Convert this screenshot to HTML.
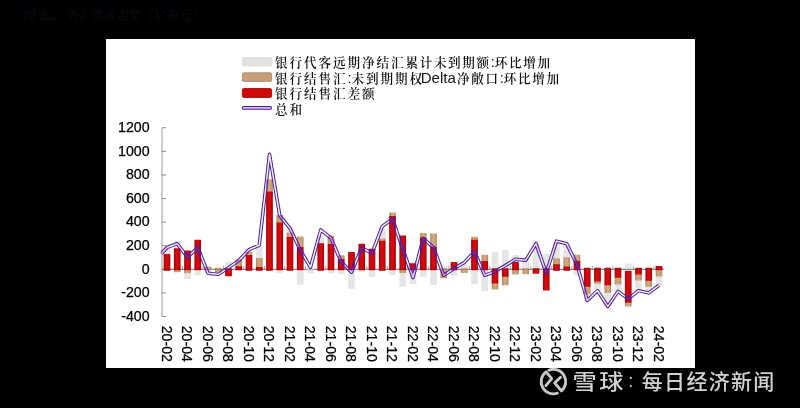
<!DOCTYPE html>
<html lang="zh-CN">
<head>
<meta charset="utf-8">
<title>图 21：外汇供求走势（亿美元）</title>
<style>
html,body{margin:0;padding:0;background:#000;}
body{width:800px;height:408px;position:relative;overflow:hidden;font-family:"Liberation Sans","Noto Sans CJK SC",sans-serif;}
#title{position:absolute;left:24px;top:7px;font-family:"Liberation Sans","Noto Serif CJK SC",serif;font-size:12.5px;line-height:18px;color:#0c0c16;white-space:nowrap;}
#panel{position:absolute;left:106px;top:39px;width:589px;height:329px;background:#fff;}
svg{position:absolute;left:0;top:0;}
.ax text{font-family:"Liberation Sans",sans-serif;font-size:14.2px;fill:#000;stroke:#000;stroke-width:0.25px;}
.lg text{font-family:"Liberation Sans","Noto Serif CJK SC",serif;font-size:12.6px;letter-spacing:1.9px;fill:#111;font-weight:600;}
.lg .en{font-size:14.5px;letter-spacing:0;font-weight:400;}
.wm text{font-family:"Liberation Sans","Noto Sans CJK SC",sans-serif;fill:#d2d2d2;font-weight:500;}
</style>
</head>
<body>
<div id="title">图 21：外汇供求走势（亿美元）</div>
<div id="panel"></div>
<svg width="800" height="408" viewBox="0 0 800 408">
<defs>
<linearGradient id="gr" x1="0" y1="0" x2="1" y2="0"><stop offset="0" stop-color="#ae0408"/><stop offset="0.35" stop-color="#d60a0e"/><stop offset="0.65" stop-color="#d60a0e"/><stop offset="1" stop-color="#ae0408"/></linearGradient>
<linearGradient id="gb" x1="0" y1="0" x2="1" y2="0"><stop offset="0" stop-color="#b89068"/><stop offset="0.35" stop-color="#cfa880"/><stop offset="0.65" stop-color="#cfa880"/><stop offset="1" stop-color="#b89068"/></linearGradient>
<mask id="lm" maskUnits="userSpaceOnUse" x="0" y="0" width="800" height="408"><rect x="0" y="0" width="800" height="408" fill="#fff"/><polyline points="161.6,253.49 167.00,247.48 177.25,243.70 187.50,257.27 197.75,247.48 208.00,273.19 218.25,274.37 228.50,267.65 238.75,260.57 249.00,249.72 259.25,245.24 269.50,154.30 279.75,215.63 290.00,228.37 300.25,249.96 310.50,267.29 320.75,229.90 331.00,238.16 341.25,261.99 351.50,272.25 361.75,247.72 372.00,253.26 382.25,226.37 392.50,218.82 402.75,249.01 413.00,277.56 423.25,238.40 433.50,247.48 443.75,275.32 454.00,268.59 464.25,262.58 474.50,251.61 484.75,275.32 495.00,271.54 505.25,265.53 515.50,259.16 525.75,260.22 536.00,243.70 546.25,273.07 556.50,241.11 566.75,243.70 577.00,264.82 587.25,300.44 597.50,290.65 607.75,306.45 618.00,291.36 628.25,298.91 638.50,290.65 648.75,292.89 659.00,285.34" fill="none" stroke="#000" stroke-width="1.5" stroke-linejoin="round"/></mask>
</defs>
<g class="lg">
<rect x="242" y="57" width="30" height="9.4" rx="1.5" fill="#e1e1e1"/>
<rect x="242.4" y="72.8" width="29.2" height="8.6" rx="1.5" fill="#c6a07a" stroke="#a88360" stroke-width="0.8"/>
<rect x="242.4" y="88.6" width="29.2" height="8.8" rx="1.5" fill="#cf0808" stroke="#a80505" stroke-width="0.9"/>
<line x1="243.6" y1="107.9" x2="270.2" y2="107.9" stroke="#47208f" stroke-width="3.7" stroke-linecap="round"/>
<line x1="243.6" y1="107.9" x2="270.2" y2="107.9" stroke="#d2bef2" stroke-width="1.7" stroke-linecap="round"/>
<text x="275" y="67">银行代客远期净结汇<tspan style="letter-spacing:1.62px">累计未到期额</tspan><tspan class="en">:</tspan><tspan style="letter-spacing:1.62px">环比增加</tspan></text>
<text x="275" y="82.5">银行结售汇<tspan class="en">:</tspan>未到期期权<tspan class="en" dx="-3.2" style="font-size:15px">Delta</tspan><tspan dx="1.2" style="letter-spacing:1.65px">净敞口</tspan><tspan class="en">:</tspan><tspan style="letter-spacing:1.65px">环比增加</tspan></text>
<text x="275" y="98">银行结售汇差额</text>
<text x="275" y="113.5">总和</text>
</g>
<g class="ax">
<line x1="162" y1="127.76" x2="162" y2="316.48" stroke="#9a9a9a" stroke-width="1"/>
<text x="149.6" y="132" text-anchor="end">1200</text>
<line x1="162" y1="127.76" x2="166" y2="127.76" stroke="#8a8a8a" stroke-width="1"/>
<text x="149.6" y="156" text-anchor="end">1000</text>
<line x1="162" y1="151.35" x2="166" y2="151.35" stroke="#8a8a8a" stroke-width="1"/>
<text x="149.6" y="179" text-anchor="end">800</text>
<line x1="162" y1="174.94" x2="166" y2="174.94" stroke="#8a8a8a" stroke-width="1"/>
<text x="149.6" y="203" text-anchor="end">600</text>
<line x1="162" y1="198.53" x2="166" y2="198.53" stroke="#8a8a8a" stroke-width="1"/>
<text x="149.6" y="226" text-anchor="end">400</text>
<line x1="162" y1="222.12" x2="166" y2="222.12" stroke="#8a8a8a" stroke-width="1"/>
<text x="149.6" y="250" text-anchor="end">200</text>
<line x1="162" y1="245.71" x2="166" y2="245.71" stroke="#8a8a8a" stroke-width="1"/>
<text x="149.6" y="274" text-anchor="end">0</text>
<line x1="162" y1="269.30" x2="166" y2="269.30" stroke="#8a8a8a" stroke-width="1"/>
<text x="149.6" y="297" text-anchor="end">-200</text>
<line x1="162" y1="292.89" x2="166" y2="292.89" stroke="#8a8a8a" stroke-width="1"/>
<text x="149.6" y="321" text-anchor="end">-400</text>
<line x1="162" y1="316.48" x2="166" y2="316.48" stroke="#8a8a8a" stroke-width="1"/>
<line x1="162" y1="269.30" x2="663.5" y2="269.30" stroke="#968c84" stroke-width="1"/>
<line x1="182.38" y1="265.90" x2="182.38" y2="269.30" stroke="#a09890" stroke-width="0.9"/>
<line x1="202.88" y1="265.90" x2="202.88" y2="269.30" stroke="#a09890" stroke-width="0.9"/>
<line x1="223.38" y1="265.90" x2="223.38" y2="269.30" stroke="#a09890" stroke-width="0.9"/>
<line x1="243.88" y1="265.90" x2="243.88" y2="269.30" stroke="#a09890" stroke-width="0.9"/>
<line x1="264.38" y1="265.90" x2="264.38" y2="269.30" stroke="#a09890" stroke-width="0.9"/>
<line x1="284.88" y1="265.90" x2="284.88" y2="269.30" stroke="#a09890" stroke-width="0.9"/>
<line x1="305.38" y1="265.90" x2="305.38" y2="269.30" stroke="#a09890" stroke-width="0.9"/>
<line x1="325.88" y1="265.90" x2="325.88" y2="269.30" stroke="#a09890" stroke-width="0.9"/>
<line x1="346.38" y1="265.90" x2="346.38" y2="269.30" stroke="#a09890" stroke-width="0.9"/>
<line x1="366.88" y1="265.90" x2="366.88" y2="269.30" stroke="#a09890" stroke-width="0.9"/>
<line x1="387.38" y1="265.90" x2="387.38" y2="269.30" stroke="#a09890" stroke-width="0.9"/>
<line x1="407.88" y1="265.90" x2="407.88" y2="269.30" stroke="#a09890" stroke-width="0.9"/>
<line x1="428.38" y1="265.90" x2="428.38" y2="269.30" stroke="#a09890" stroke-width="0.9"/>
<line x1="448.88" y1="265.90" x2="448.88" y2="269.30" stroke="#a09890" stroke-width="0.9"/>
<line x1="469.38" y1="265.90" x2="469.38" y2="269.30" stroke="#a09890" stroke-width="0.9"/>
<line x1="489.88" y1="265.90" x2="489.88" y2="269.30" stroke="#a09890" stroke-width="0.9"/>
<line x1="510.38" y1="265.90" x2="510.38" y2="269.30" stroke="#a09890" stroke-width="0.9"/>
<line x1="530.88" y1="265.90" x2="530.88" y2="269.30" stroke="#a09890" stroke-width="0.9"/>
<line x1="551.38" y1="265.90" x2="551.38" y2="269.30" stroke="#a09890" stroke-width="0.9"/>
<line x1="571.88" y1="265.90" x2="571.88" y2="269.30" stroke="#a09890" stroke-width="0.9"/>
<line x1="592.38" y1="265.90" x2="592.38" y2="269.30" stroke="#a09890" stroke-width="0.9"/>
<line x1="612.88" y1="265.90" x2="612.88" y2="269.30" stroke="#a09890" stroke-width="0.9"/>
<line x1="633.38" y1="265.90" x2="633.38" y2="269.30" stroke="#a09890" stroke-width="0.9"/>
<line x1="653.88" y1="265.90" x2="653.88" y2="269.30" stroke="#a09890" stroke-width="0.9"/>
<text transform="translate(161.70,325.7) rotate(90)">20-02</text>
<text transform="translate(182.20,325.7) rotate(90)">20-04</text>
<text transform="translate(202.70,325.7) rotate(90)">20-06</text>
<text transform="translate(223.20,325.7) rotate(90)">20-08</text>
<text transform="translate(243.70,325.7) rotate(90)">20-10</text>
<text transform="translate(264.20,325.7) rotate(90)">20-12</text>
<text transform="translate(284.70,325.7) rotate(90)">21-02</text>
<text transform="translate(305.20,325.7) rotate(90)">21-04</text>
<text transform="translate(325.70,325.7) rotate(90)">21-06</text>
<text transform="translate(346.20,325.7) rotate(90)">21-08</text>
<text transform="translate(366.70,325.7) rotate(90)">21-10</text>
<text transform="translate(387.20,325.7) rotate(90)">21-12</text>
<text transform="translate(407.70,325.7) rotate(90)">22-02</text>
<text transform="translate(428.20,325.7) rotate(90)">22-04</text>
<text transform="translate(448.70,325.7) rotate(90)">22-06</text>
<text transform="translate(469.20,325.7) rotate(90)">22-08</text>
<text transform="translate(489.70,325.7) rotate(90)">22-10</text>
<text transform="translate(510.20,325.7) rotate(90)">22-12</text>
<text transform="translate(530.70,325.7) rotate(90)">23-02</text>
<text transform="translate(551.20,325.7) rotate(90)">23-04</text>
<text transform="translate(571.70,325.7) rotate(90)">23-06</text>
<text transform="translate(592.20,325.7) rotate(90)">23-08</text>
<text transform="translate(612.70,325.7) rotate(90)">23-10</text>
<text transform="translate(633.20,325.7) rotate(90)">23-12</text>
<text transform="translate(653.70,325.7) rotate(90)">24-02</text>
</g>
<g>
<rect x="164.30" y="247.48" width="5.40" height="7.08" fill="#e5e5e5" stroke="#e5e5e5" stroke-width="1.3" stroke-linejoin="round"/>
<rect x="174.55" y="241.46" width="5.40" height="7.55" fill="#e5e5e5" stroke="#e5e5e5" stroke-width="1.3" stroke-linejoin="round"/>
<rect x="184.80" y="272.72" width="5.40" height="5.54" fill="#e5e5e5" stroke="#e5e5e5" stroke-width="1.3" stroke-linejoin="round"/>
<rect x="195.05" y="269.00" width="5.40" height="5.61" fill="#e5e5e5" stroke="#e5e5e5" stroke-width="1.3" stroke-linejoin="round"/>
<rect x="205.30" y="269.00" width="5.40" height="3.84" fill="#e5e5e5" stroke="#e5e5e5" stroke-width="1.3" stroke-linejoin="round"/>
<rect x="215.55" y="271.66" width="5.40" height="1.77" fill="#e5e5e5" stroke="#e5e5e5" stroke-width="1.3" stroke-linejoin="round"/>
<rect x="225.80" y="262.34" width="5.40" height="7.26" fill="#e5e5e5" stroke="#e5e5e5" stroke-width="1.3" stroke-linejoin="round"/>
<rect x="236.05" y="269.00" width="5.40" height="1.83" fill="#e5e5e5" stroke="#e5e5e5" stroke-width="1.3" stroke-linejoin="round"/>
<rect x="246.30" y="249.72" width="5.40" height="2.95" fill="#e5e5e5" stroke="#e5e5e5" stroke-width="1.3" stroke-linejoin="round"/>
<rect x="256.55" y="247.36" width="5.40" height="11.21" fill="#e5e5e5" stroke="#e5e5e5" stroke-width="1.3" stroke-linejoin="round"/>
<rect x="277.05" y="269.00" width="5.40" height="3.60" fill="#e5e5e5" stroke="#e5e5e5" stroke-width="1.3" stroke-linejoin="round"/>
<rect x="287.30" y="229.43" width="5.40" height="3.77" fill="#e5e5e5" stroke="#e5e5e5" stroke-width="1.3" stroke-linejoin="round"/>
<rect x="297.55" y="269.00" width="5.40" height="14.93" fill="#e5e5e5" stroke="#e5e5e5" stroke-width="1.3" stroke-linejoin="round"/>
<rect x="307.80" y="268.40" width="5.40" height="4.20" fill="#e5e5e5" stroke="#e5e5e5" stroke-width="1.3" stroke-linejoin="round"/>
<rect x="318.05" y="236.63" width="5.40" height="7.31" fill="#e5e5e5" stroke="#e5e5e5" stroke-width="1.3" stroke-linejoin="round"/>
<rect x="328.30" y="269.00" width="5.40" height="3.60" fill="#e5e5e5" stroke="#e5e5e5" stroke-width="1.3" stroke-linejoin="round"/>
<rect x="338.55" y="269.00" width="5.40" height="4.31" fill="#e5e5e5" stroke="#e5e5e5" stroke-width="1.3" stroke-linejoin="round"/>
<rect x="348.80" y="269.00" width="5.40" height="19.41" fill="#e5e5e5" stroke="#e5e5e5" stroke-width="1.3" stroke-linejoin="round"/>
<rect x="359.05" y="269.00" width="5.40" height="2.31" fill="#e5e5e5" stroke="#e5e5e5" stroke-width="1.3" stroke-linejoin="round"/>
<rect x="369.30" y="269.00" width="5.40" height="7.38" fill="#e5e5e5" stroke="#e5e5e5" stroke-width="1.3" stroke-linejoin="round"/>
<rect x="379.55" y="228.61" width="5.40" height="10.62" fill="#e5e5e5" stroke="#e5e5e5" stroke-width="1.3" stroke-linejoin="round"/>
<rect x="389.80" y="269.00" width="5.40" height="5.61" fill="#e5e5e5" stroke="#e5e5e5" stroke-width="1.3" stroke-linejoin="round"/>
<rect x="400.05" y="272.25" width="5.40" height="13.56" fill="#e5e5e5" stroke="#e5e5e5" stroke-width="1.3" stroke-linejoin="round"/>
<rect x="410.30" y="269.00" width="5.40" height="14.57" fill="#e5e5e5" stroke="#e5e5e5" stroke-width="1.3" stroke-linejoin="round"/>
<rect x="420.55" y="269.00" width="5.40" height="7.02" fill="#e5e5e5" stroke="#e5e5e5" stroke-width="1.3" stroke-linejoin="round"/>
<rect x="430.80" y="269.00" width="5.40" height="15.40" fill="#e5e5e5" stroke="#e5e5e5" stroke-width="1.3" stroke-linejoin="round"/>
<rect x="441.05" y="266.35" width="5.40" height="3.25" fill="#e5e5e5" stroke="#e5e5e5" stroke-width="1.3" stroke-linejoin="round"/>
<rect x="451.30" y="269.00" width="5.40" height="6.32" fill="#e5e5e5" stroke="#e5e5e5" stroke-width="1.3" stroke-linejoin="round"/>
<rect x="461.55" y="263.99" width="5.40" height="5.61" fill="#e5e5e5" stroke="#e5e5e5" stroke-width="1.3" stroke-linejoin="round"/>
<rect x="471.80" y="269.00" width="5.40" height="14.57" fill="#e5e5e5" stroke="#e5e5e5" stroke-width="1.3" stroke-linejoin="round"/>
<rect x="482.05" y="269.00" width="5.40" height="21.41" fill="#e5e5e5" stroke="#e5e5e5" stroke-width="1.3" stroke-linejoin="round"/>
<rect x="492.30" y="252.32" width="5.40" height="17.28" fill="#e5e5e5" stroke="#e5e5e5" stroke-width="1.3" stroke-linejoin="round"/>
<rect x="502.55" y="250.43" width="5.40" height="19.17" fill="#e5e5e5" stroke="#e5e5e5" stroke-width="1.3" stroke-linejoin="round"/>
<rect x="512.80" y="255.74" width="5.40" height="6.84" fill="#e5e5e5" stroke="#e5e5e5" stroke-width="1.3" stroke-linejoin="round"/>
<rect x="523.05" y="257.50" width="5.40" height="12.10" fill="#e5e5e5" stroke="#e5e5e5" stroke-width="1.3" stroke-linejoin="round"/>
<rect x="533.30" y="240.99" width="5.40" height="28.61" fill="#e5e5e5" stroke="#e5e5e5" stroke-width="1.3" stroke-linejoin="round"/>
<rect x="543.55" y="254.20" width="5.40" height="15.40" fill="#e5e5e5" stroke="#e5e5e5" stroke-width="1.3" stroke-linejoin="round"/>
<rect x="553.80" y="243.00" width="5.40" height="15.81" fill="#e5e5e5" stroke="#e5e5e5" stroke-width="1.3" stroke-linejoin="round"/>
<rect x="564.05" y="245.24" width="5.40" height="12.74" fill="#e5e5e5" stroke="#e5e5e5" stroke-width="1.3" stroke-linejoin="round"/>
<rect x="574.30" y="269.00" width="5.40" height="5.84" fill="#e5e5e5" stroke="#e5e5e5" stroke-width="1.3" stroke-linejoin="round"/>
<rect x="584.55" y="293.72" width="5.40" height="6.49" fill="#e5e5e5" stroke="#e5e5e5" stroke-width="1.3" stroke-linejoin="round"/>
<rect x="594.80" y="283.10" width="5.40" height="6.84" fill="#e5e5e5" stroke="#e5e5e5" stroke-width="1.3" stroke-linejoin="round"/>
<rect x="605.05" y="292.18" width="5.40" height="12.97" fill="#e5e5e5" stroke="#e5e5e5" stroke-width="1.3" stroke-linejoin="round"/>
<rect x="615.30" y="283.93" width="5.40" height="7.55" fill="#e5e5e5" stroke="#e5e5e5" stroke-width="1.3" stroke-linejoin="round"/>
<rect x="625.55" y="264.11" width="5.40" height="4.25" fill="#e5e5e5" stroke="#e5e5e5" stroke-width="1.3" stroke-linejoin="round"/>
<rect x="635.80" y="279.80" width="5.40" height="10.14" fill="#e5e5e5" stroke="#e5e5e5" stroke-width="1.3" stroke-linejoin="round"/>
<rect x="646.05" y="286.17" width="5.40" height="4.72" fill="#e5e5e5" stroke="#e5e5e5" stroke-width="1.3" stroke-linejoin="round"/>
<rect x="656.30" y="275.91" width="5.40" height="9.55" fill="#e5e5e5" stroke="#e5e5e5" stroke-width="1.3" stroke-linejoin="round"/>
<rect x="174.55" y="269.00" width="5.40" height="2.54" fill="url(#gb)" stroke="url(#gb)" stroke-width="1.3" stroke-linejoin="round"/>
<rect x="184.80" y="269.00" width="5.40" height="3.72" fill="url(#gb)" stroke="url(#gb)" stroke-width="1.3" stroke-linejoin="round"/>
<rect x="205.30" y="267.29" width="5.40" height="2.31" fill="url(#gb)" stroke="url(#gb)" stroke-width="1.3" stroke-linejoin="round"/>
<rect x="215.55" y="268.40" width="5.40" height="3.26" fill="url(#gb)" stroke="url(#gb)" stroke-width="1.3" stroke-linejoin="round"/>
<rect x="236.05" y="260.22" width="5.40" height="6.61" fill="url(#gb)" stroke="url(#gb)" stroke-width="1.3" stroke-linejoin="round"/>
<rect x="246.30" y="252.67" width="5.40" height="3.07" fill="url(#gb)" stroke="url(#gb)" stroke-width="1.3" stroke-linejoin="round"/>
<rect x="256.55" y="258.57" width="5.40" height="9.08" fill="url(#gb)" stroke="url(#gb)" stroke-width="1.3" stroke-linejoin="round"/>
<rect x="266.80" y="179.89" width="5.40" height="12.15" fill="url(#gb)" stroke="url(#gb)" stroke-width="1.3" stroke-linejoin="round"/>
<rect x="277.05" y="215.63" width="5.40" height="7.55" fill="url(#gb)" stroke="url(#gb)" stroke-width="1.3" stroke-linejoin="round"/>
<rect x="287.30" y="233.21" width="5.40" height="4.48" fill="url(#gb)" stroke="url(#gb)" stroke-width="1.3" stroke-linejoin="round"/>
<rect x="297.55" y="237.22" width="5.40" height="10.50" fill="url(#gb)" stroke="url(#gb)" stroke-width="1.3" stroke-linejoin="round"/>
<rect x="328.30" y="236.39" width="5.40" height="8.37" fill="url(#gb)" stroke="url(#gb)" stroke-width="1.3" stroke-linejoin="round"/>
<rect x="338.55" y="255.97" width="5.40" height="3.77" fill="url(#gb)" stroke="url(#gb)" stroke-width="1.3" stroke-linejoin="round"/>
<rect x="379.55" y="239.22" width="5.40" height="2.24" fill="url(#gb)" stroke="url(#gb)" stroke-width="1.3" stroke-linejoin="round"/>
<rect x="389.80" y="213.16" width="5.40" height="3.42" fill="url(#gb)" stroke="url(#gb)" stroke-width="1.3" stroke-linejoin="round"/>
<rect x="400.05" y="269.00" width="5.40" height="3.25" fill="url(#gb)" stroke="url(#gb)" stroke-width="1.3" stroke-linejoin="round"/>
<rect x="420.55" y="233.56" width="5.40" height="4.84" fill="url(#gb)" stroke="url(#gb)" stroke-width="1.3" stroke-linejoin="round"/>
<rect x="430.80" y="234.27" width="5.40" height="13.21" fill="url(#gb)" stroke="url(#gb)" stroke-width="1.3" stroke-linejoin="round"/>
<rect x="441.05" y="269.00" width="5.40" height="8.56" fill="url(#gb)" stroke="url(#gb)" stroke-width="1.3" stroke-linejoin="round"/>
<rect x="461.55" y="269.00" width="5.40" height="3.25" fill="url(#gb)" stroke="url(#gb)" stroke-width="1.3" stroke-linejoin="round"/>
<rect x="471.80" y="237.34" width="5.40" height="2.95" fill="url(#gb)" stroke="url(#gb)" stroke-width="1.3" stroke-linejoin="round"/>
<rect x="482.05" y="255.50" width="5.40" height="6.25" fill="url(#gb)" stroke="url(#gb)" stroke-width="1.3" stroke-linejoin="round"/>
<rect x="492.30" y="282.86" width="5.40" height="6.02" fill="url(#gb)" stroke="url(#gb)" stroke-width="1.3" stroke-linejoin="round"/>
<rect x="502.55" y="276.02" width="5.40" height="8.61" fill="url(#gb)" stroke="url(#gb)" stroke-width="1.3" stroke-linejoin="round"/>
<rect x="512.80" y="269.00" width="5.40" height="4.78" fill="url(#gb)" stroke="url(#gb)" stroke-width="1.3" stroke-linejoin="round"/>
<rect x="523.05" y="269.00" width="5.40" height="4.55" fill="url(#gb)" stroke="url(#gb)" stroke-width="1.3" stroke-linejoin="round"/>
<rect x="553.80" y="258.80" width="5.40" height="6.02" fill="url(#gb)" stroke="url(#gb)" stroke-width="1.3" stroke-linejoin="round"/>
<rect x="564.05" y="257.98" width="5.40" height="9.08" fill="url(#gb)" stroke="url(#gb)" stroke-width="1.3" stroke-linejoin="round"/>
<rect x="574.30" y="255.38" width="5.40" height="5.90" fill="url(#gb)" stroke="url(#gb)" stroke-width="1.3" stroke-linejoin="round"/>
<rect x="584.55" y="286.17" width="5.40" height="7.55" fill="url(#gb)" stroke="url(#gb)" stroke-width="1.3" stroke-linejoin="round"/>
<rect x="594.80" y="280.86" width="5.40" height="2.24" fill="url(#gb)" stroke="url(#gb)" stroke-width="1.3" stroke-linejoin="round"/>
<rect x="605.05" y="284.63" width="5.40" height="7.55" fill="url(#gb)" stroke="url(#gb)" stroke-width="1.3" stroke-linejoin="round"/>
<rect x="615.30" y="277.08" width="5.40" height="6.84" fill="url(#gb)" stroke="url(#gb)" stroke-width="1.3" stroke-linejoin="round"/>
<rect x="625.55" y="301.97" width="5.40" height="3.77" fill="url(#gb)" stroke="url(#gb)" stroke-width="1.3" stroke-linejoin="round"/>
<rect x="635.80" y="273.78" width="5.40" height="6.02" fill="url(#gb)" stroke="url(#gb)" stroke-width="1.3" stroke-linejoin="round"/>
<rect x="646.05" y="280.15" width="5.40" height="6.02" fill="url(#gb)" stroke="url(#gb)" stroke-width="1.3" stroke-linejoin="round"/>
<rect x="656.30" y="269.00" width="5.40" height="6.91" fill="url(#gb)" stroke="url(#gb)" stroke-width="1.3" stroke-linejoin="round"/>
<rect x="164.30" y="254.56" width="5.40" height="15.64" fill="url(#gr)" stroke="url(#gr)" stroke-width="1.3" stroke-linejoin="round"/>
<rect x="174.55" y="249.01" width="5.40" height="20.59" fill="url(#gr)" stroke="url(#gr)" stroke-width="1.3" stroke-linejoin="round"/>
<rect x="184.80" y="251.25" width="5.40" height="18.35" fill="url(#gr)" stroke="url(#gr)" stroke-width="1.3" stroke-linejoin="round"/>
<rect x="195.05" y="240.40" width="5.40" height="29.20" fill="url(#gr)" stroke="url(#gr)" stroke-width="1.3" stroke-linejoin="round"/>
<rect x="225.80" y="269.00" width="5.40" height="6.67" fill="url(#gr)" stroke="url(#gr)" stroke-width="1.3" stroke-linejoin="round"/>
<rect x="236.05" y="266.82" width="5.40" height="2.78" fill="url(#gr)" stroke="url(#gr)" stroke-width="1.3" stroke-linejoin="round"/>
<rect x="246.30" y="255.74" width="5.40" height="14.46" fill="url(#gr)" stroke="url(#gr)" stroke-width="1.3" stroke-linejoin="round"/>
<rect x="256.55" y="267.65" width="5.40" height="2.55" fill="url(#gr)" stroke="url(#gr)" stroke-width="1.3" stroke-linejoin="round"/>
<rect x="266.80" y="192.04" width="5.40" height="78.16" fill="url(#gr)" stroke="url(#gr)" stroke-width="1.3" stroke-linejoin="round"/>
<rect x="277.05" y="223.18" width="5.40" height="46.42" fill="url(#gr)" stroke="url(#gr)" stroke-width="1.3" stroke-linejoin="round"/>
<rect x="287.30" y="237.69" width="5.40" height="32.51" fill="url(#gr)" stroke="url(#gr)" stroke-width="1.3" stroke-linejoin="round"/>
<rect x="297.55" y="247.72" width="5.40" height="21.88" fill="url(#gr)" stroke="url(#gr)" stroke-width="1.3" stroke-linejoin="round"/>
<rect x="318.05" y="243.94" width="5.40" height="26.26" fill="url(#gr)" stroke="url(#gr)" stroke-width="1.3" stroke-linejoin="round"/>
<rect x="328.30" y="244.77" width="5.40" height="24.83" fill="url(#gr)" stroke="url(#gr)" stroke-width="1.3" stroke-linejoin="round"/>
<rect x="338.55" y="259.75" width="5.40" height="9.85" fill="url(#gr)" stroke="url(#gr)" stroke-width="1.3" stroke-linejoin="round"/>
<rect x="348.80" y="252.67" width="5.40" height="16.93" fill="url(#gr)" stroke="url(#gr)" stroke-width="1.3" stroke-linejoin="round"/>
<rect x="359.05" y="244.29" width="5.40" height="25.31" fill="url(#gr)" stroke="url(#gr)" stroke-width="1.3" stroke-linejoin="round"/>
<rect x="369.30" y="249.48" width="5.40" height="20.12" fill="url(#gr)" stroke="url(#gr)" stroke-width="1.3" stroke-linejoin="round"/>
<rect x="379.55" y="241.46" width="5.40" height="28.74" fill="url(#gr)" stroke="url(#gr)" stroke-width="1.3" stroke-linejoin="round"/>
<rect x="389.80" y="216.58" width="5.40" height="53.02" fill="url(#gr)" stroke="url(#gr)" stroke-width="1.3" stroke-linejoin="round"/>
<rect x="400.05" y="236.16" width="5.40" height="33.44" fill="url(#gr)" stroke="url(#gr)" stroke-width="1.3" stroke-linejoin="round"/>
<rect x="410.30" y="263.99" width="5.40" height="5.61" fill="url(#gr)" stroke="url(#gr)" stroke-width="1.3" stroke-linejoin="round"/>
<rect x="420.55" y="238.40" width="5.40" height="31.20" fill="url(#gr)" stroke="url(#gr)" stroke-width="1.3" stroke-linejoin="round"/>
<rect x="430.80" y="247.48" width="5.40" height="22.12" fill="url(#gr)" stroke="url(#gr)" stroke-width="1.3" stroke-linejoin="round"/>
<rect x="451.30" y="262.58" width="5.40" height="7.02" fill="url(#gr)" stroke="url(#gr)" stroke-width="1.3" stroke-linejoin="round"/>
<rect x="471.80" y="240.28" width="5.40" height="29.32" fill="url(#gr)" stroke="url(#gr)" stroke-width="1.3" stroke-linejoin="round"/>
<rect x="482.05" y="261.75" width="5.40" height="7.85" fill="url(#gr)" stroke="url(#gr)" stroke-width="1.3" stroke-linejoin="round"/>
<rect x="492.30" y="269.00" width="5.40" height="13.86" fill="url(#gr)" stroke="url(#gr)" stroke-width="1.3" stroke-linejoin="round"/>
<rect x="502.55" y="269.00" width="5.40" height="7.02" fill="url(#gr)" stroke="url(#gr)" stroke-width="1.3" stroke-linejoin="round"/>
<rect x="512.80" y="262.58" width="5.40" height="7.02" fill="url(#gr)" stroke="url(#gr)" stroke-width="1.3" stroke-linejoin="round"/>
<rect x="533.30" y="269.00" width="5.40" height="4.07" fill="url(#gr)" stroke="url(#gr)" stroke-width="1.3" stroke-linejoin="round"/>
<rect x="543.55" y="269.00" width="5.40" height="20.94" fill="url(#gr)" stroke="url(#gr)" stroke-width="1.3" stroke-linejoin="round"/>
<rect x="553.80" y="264.82" width="5.40" height="5.38" fill="url(#gr)" stroke="url(#gr)" stroke-width="1.3" stroke-linejoin="round"/>
<rect x="564.05" y="267.06" width="5.40" height="3.14" fill="url(#gr)" stroke="url(#gr)" stroke-width="1.3" stroke-linejoin="round"/>
<rect x="574.30" y="261.28" width="5.40" height="8.32" fill="url(#gr)" stroke="url(#gr)" stroke-width="1.3" stroke-linejoin="round"/>
<rect x="584.55" y="268.40" width="5.40" height="17.77" fill="url(#gr)" stroke="url(#gr)" stroke-width="1.3" stroke-linejoin="round"/>
<rect x="594.80" y="268.40" width="5.40" height="12.46" fill="url(#gr)" stroke="url(#gr)" stroke-width="1.3" stroke-linejoin="round"/>
<rect x="605.05" y="268.40" width="5.40" height="16.23" fill="url(#gr)" stroke="url(#gr)" stroke-width="1.3" stroke-linejoin="round"/>
<rect x="615.30" y="268.40" width="5.40" height="8.68" fill="url(#gr)" stroke="url(#gr)" stroke-width="1.3" stroke-linejoin="round"/>
<rect x="625.55" y="271.31" width="5.40" height="30.67" fill="url(#gr)" stroke="url(#gr)" stroke-width="1.3" stroke-linejoin="round"/>
<rect x="635.80" y="268.40" width="5.40" height="5.38" fill="url(#gr)" stroke="url(#gr)" stroke-width="1.3" stroke-linejoin="round"/>
<rect x="646.05" y="268.40" width="5.40" height="11.75" fill="url(#gr)" stroke="url(#gr)" stroke-width="1.3" stroke-linejoin="round"/>
<rect x="656.30" y="266.59" width="5.40" height="3.01" fill="url(#gr)" stroke="url(#gr)" stroke-width="1.3" stroke-linejoin="round"/>
</g>
<line x1="162" y1="269.30" x2="663.5" y2="269.30" stroke="#3a2418" stroke-opacity="0.35" stroke-width="0.8"/>
<polyline points="161.6,253.49 167.00,247.48 177.25,243.70 187.50,257.27 197.75,247.48 208.00,273.19 218.25,274.37 228.50,267.65 238.75,260.57 249.00,249.72 259.25,245.24 269.50,154.30 279.75,215.63 290.00,228.37 300.25,249.96 310.50,267.29 320.75,229.90 331.00,238.16 341.25,261.99 351.50,272.25 361.75,247.72 372.00,253.26 382.25,226.37 392.50,218.82 402.75,249.01 413.00,277.56 423.25,238.40 433.50,247.48 443.75,275.32 454.00,268.59 464.25,262.58 474.50,251.61 484.75,275.32 495.00,271.54 505.25,265.53 515.50,259.16 525.75,260.22 536.00,243.70 546.25,273.07 556.50,241.11 566.75,243.70 577.00,264.82 587.25,300.44 597.50,290.65 607.75,306.45 618.00,291.36 628.25,298.91 638.50,290.65 648.75,292.89 659.00,285.34" fill="none" stroke="#9a2aa0" stroke-width="1.8" stroke-opacity="0.85" stroke-linejoin="round" style="mix-blend-mode:color"/>
<polyline points="161.6,253.49 167.00,247.48 177.25,243.70 187.50,257.27 197.75,247.48 208.00,273.19 218.25,274.37 228.50,267.65 238.75,260.57 249.00,249.72 259.25,245.24 269.50,154.30 279.75,215.63 290.00,228.37 300.25,249.96 310.50,267.29 320.75,229.90 331.00,238.16 341.25,261.99 351.50,272.25 361.75,247.72 372.00,253.26 382.25,226.37 392.50,218.82 402.75,249.01 413.00,277.56 423.25,238.40 433.50,247.48 443.75,275.32 454.00,268.59 464.25,262.58 474.50,251.61 484.75,275.32 495.00,271.54 505.25,265.53 515.50,259.16 525.75,260.22 536.00,243.70 546.25,273.07 556.50,241.11 566.75,243.70 577.00,264.82 587.25,300.44 597.50,290.65 607.75,306.45 618.00,291.36 628.25,298.91 638.50,290.65 648.75,292.89 659.00,285.34" fill="none" stroke="#8a55e0" stroke-opacity="0.10" stroke-width="1.8" stroke-linejoin="round"/>
<polyline points="161.6,253.49 167.00,247.48 177.25,243.70 187.50,257.27 197.75,247.48 208.00,273.19 218.25,274.37 228.50,267.65 238.75,260.57 249.00,249.72 259.25,245.24 269.50,154.30 279.75,215.63 290.00,228.37 300.25,249.96 310.50,267.29 320.75,229.90 331.00,238.16 341.25,261.99 351.50,272.25 361.75,247.72 372.00,253.26 382.25,226.37 392.50,218.82 402.75,249.01 413.00,277.56 423.25,238.40 433.50,247.48 443.75,275.32 454.00,268.59 464.25,262.58 474.50,251.61 484.75,275.32 495.00,271.54 505.25,265.53 515.50,259.16 525.75,260.22 536.00,243.70 546.25,273.07 556.50,241.11 566.75,243.70 577.00,264.82 587.25,300.44 597.50,290.65 607.75,306.45 618.00,291.36 628.25,298.91 638.50,290.65 648.75,292.89 659.00,285.34" fill="none" stroke="#47208f" stroke-width="3.5" stroke-linejoin="round" stroke-linecap="butt" mask="url(#lm)"/>
<g fill="none" stroke="#c8c8c8" stroke-width="2.9" stroke-linecap="round" stroke-linejoin="round">
<path d="M545.9 385.6 L551.7 378.6 L546.03 371.82 A12.25 12.25 0 0 0 557.39 393.18"/>
<path d="M560.5 377.2 L554.7 383 L561.44 390.85 A12.25 12.25 0 0 0 548.81 370.24"/>
</g>
<g class="wm">
<text transform="translate(572.4,389.4) scale(1.15,1)" font-size="21" letter-spacing="2.4">雪球</text>
<text x="628.3" y="386.9" font-size="18" font-weight="700">:</text>
<text x="641.8" y="389.2" font-size="21" letter-spacing="1.3">每日经济新闻</text>
</g>
</svg>
</body>
</html>
